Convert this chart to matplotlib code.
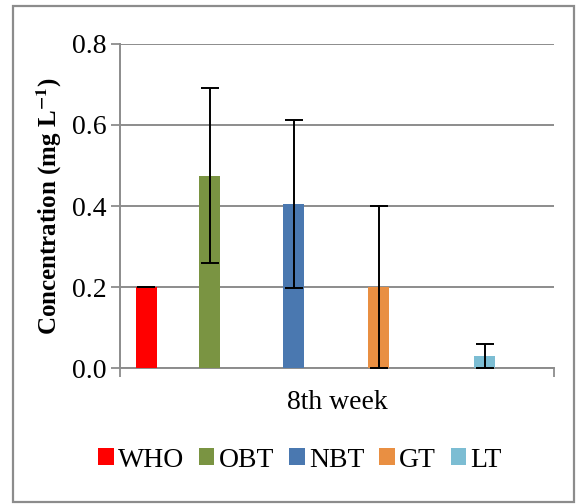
import matplotlib
matplotlib.use("Agg")
import matplotlib.pyplot as plt

# mean concentration and standard deviation per treatment (8th week)
labels = ["WHO", "OBT", "NBT", "GT", "LT"]
means = [0.20, 0.475, 0.405, 0.20, 0.03]
errors = [0.0, 0.215, 0.208, 0.20, 0.03]
colors = ["#FF0000", "#7A9442", "#4A78B0", "#E98F42", "#7CBDD3"]

# bar centres along the category axis (axis runs 0..434)
xpos = [26, 90, 174, 259, 365]

plt.rcParams["font.family"] = ["Liberation Serif", "DejaVu Serif"]
plt.rcParams["mathtext.fontset"] = "stix"

fig = plt.figure(figsize=(5.77, 5.04), dpi=100)
ax = fig.add_axes([0.208, 0.269, 0.752, 0.644])

bars = []
for x, m, e, c, lab in zip(xpos, means, errors, colors, labels):
    b = ax.bar(x, m, width=21, color=c, label=lab, zorder=3,
               yerr=e, capsize=6.5,
               error_kw=dict(ecolor="black", elinewidth=1.4, capthick=1.4, zorder=4))
    bars.append(b)

ax.set_xlim(0, 434)
ax.set_ylim(0, 0.8)
ax.set_yticks([0.0, 0.2, 0.4, 0.6, 0.8])
ax.set_yticklabels(["0.0", "0.2", "0.4", "0.6", "0.8"], fontsize=20)
ax.set_xticks([0, 434])
ax.set_xticklabels(["", ""])
ax.tick_params(axis="both", direction="out", length=6.5, width=1.3, color="#8C8C8C", pad=3)
ax.grid(axis="y", color="#8C8C8C", linewidth=1.4, zorder=0)
ax.set_axisbelow(True)

for side in ["top", "right"]:
    ax.spines[side].set_visible(False)
for side in ["left", "bottom"]:
    ax.spines[side].set_color("#8C8C8C")
    ax.spines[side].set_linewidth(1.4)

ax.set_xlabel("8th week", fontsize=20, labelpad=6)
ax.set_ylabel(r"Concentration (mg L$^{\mathbf{-1}}$)", fontsize=18,
              fontweight="bold", labelpad=6)

fig.legend(handles=bars, labels=labels, loc="center", ncol=5,
           bbox_to_anchor=(0.52, 0.087), frameon=False, fontsize=20,
           handlelength=0.55, handleheight=0.55, handletextpad=0.15,
           columnspacing=0.55)

# outer frame around the whole figure
fig.patches.append(plt.Rectangle((0.023, 0.004), 0.972, 0.984, transform=fig.transFigure,
                                 fill=False, edgecolor="#8C8C8C", linewidth=1.6))

fig.savefig("out.png", dpi=100)
